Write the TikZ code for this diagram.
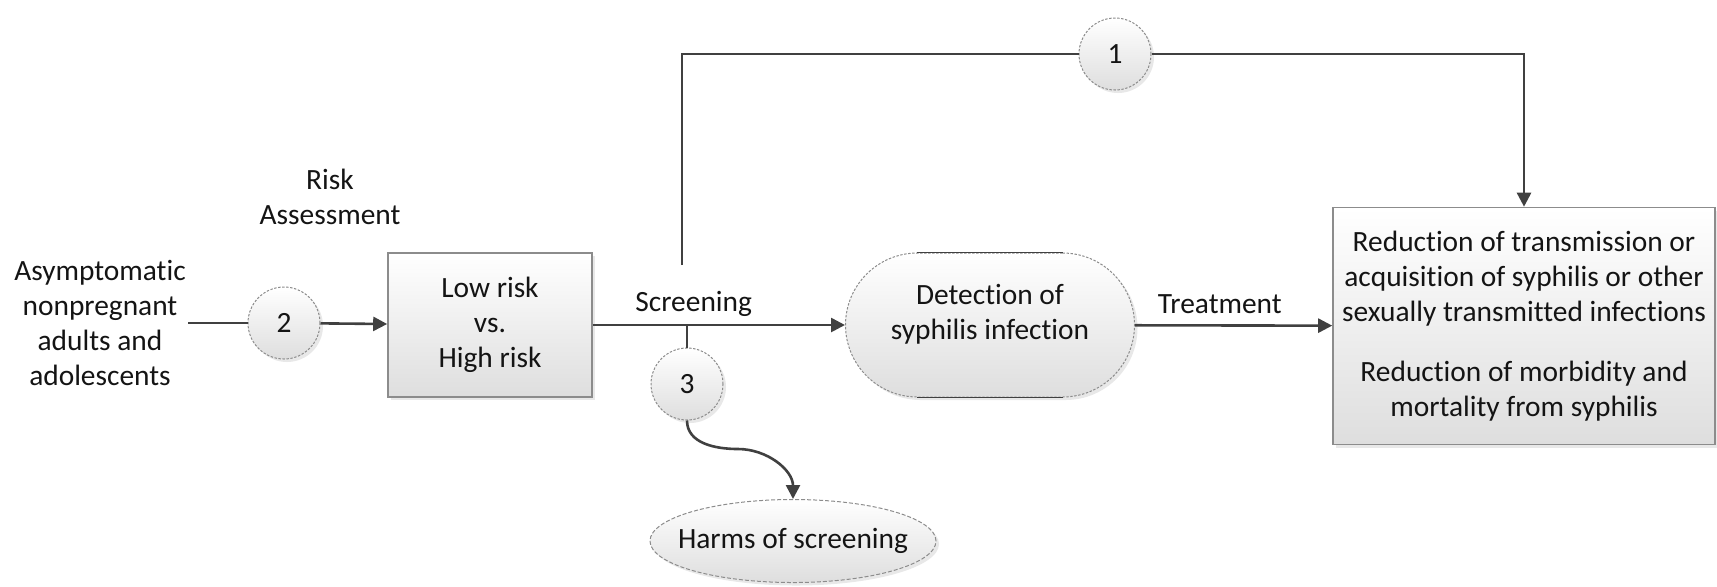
\documentclass[tikz,border=0pt]{standalone}
\usepackage{fontspec}
\setmainfont{Carlito}[Ligatures=NoCommon, RawFeature={-liga;-clig;-calt;-dlig}]
\usetikzlibrary{arrows.meta,shapes.geometric,shadows}

\definecolor{linegray}{HTML}{404040}
\definecolor{bordergray}{HTML}{8C8C8C}
\definecolor{fillgray}{HTML}{DEDEDE}
\definecolor{txtblack}{HTML}{141414}

\tikzset{
    plain/.style={draw=linegray, line width=1.3pt},
    flow/.style={plain, -{Triangle[length=7pt,width=7pt]}},
    softshadow/.style={drop shadow={opacity=0.18, shadow xshift=1.5pt, shadow yshift=-1.5pt}},
    numcirc/.style={circle, draw=bordergray, line width=0.5pt, dash pattern=on 1.2pt off 0.8pt,
        top color=white, bottom color=fillgray, softshadow, minimum size=36pt, inner sep=0pt},
    graybox/.style={rectangle, draw=bordergray, line width=0.8pt, top color=white,
        bottom color=fillgray, softshadow, align=center, inner sep=2pt},
    stadium/.style={rectangle, rounded corners=36pt, draw=bordergray, line width=0.5pt,
        dash pattern=on 1.2pt off 0.8pt, top color=white, bottom color=fillgray, softshadow,
        minimum width=144.5pt, minimum height=72pt},
    oval/.style={ellipse, draw=bordergray, line width=0.5pt, dash pattern=on 2pt off 1pt,
        top color=white, bottom color=fillgray, softshadow,
        minimum width=143pt, minimum height=41.5pt, inner sep=0pt},
    plaintext/.style={align=center, inner sep=1pt}
}

\begin{document}
\begin{tikzpicture}[x=0.5pt,y=-0.5pt, font=\fontsize{14.7}{17.5}\selectfont, text=txtblack]
    \useasboundingbox (0,0) rectangle (1717,586);

    % nodes
    \node[plaintext] (pop) at (100,323) {Asymptomatic\\nonpregnant\\adults and\\adolescents};
    \node[plaintext] (riskhead) at (330,197) {Risk\\Assessment};
    \node[numcirc] (c2) at (284,323) {2};
    \node[graybox, minimum width=102pt, minimum height=72pt] (risk) at (490,325)
        {Low risk\\vs.\\High risk};
    \node[stadium, label={[align=center, yshift=5.5pt]center:Detection of\\syphilis infection}]
        (det) at (990,325) {};
    \node[numcirc] (c3) at (687,384) {3};
    \node[oval] (harms) at (793,541) {\makebox[96pt]{Harms of screening}};
    \node[numcirc] (c1) at (1115,54) {1};
    \node[graybox, minimum width=191pt, minimum height=118.5pt] (outcome) at (1524,326)
        {Reduction of transmission or\\acquisition of syphilis or other\\sexually transmitted infections\\[12.5pt]
         Reduction of morbidity and\\mortality from syphilis};

    \draw[plain, line width=0.8pt] ([xshift=36pt]det.north west) -- ([xshift=-36pt]det.north east);
    \draw[plain, line width=0.8pt] ([xshift=36pt]det.south west) -- ([xshift=-36pt]det.south east);

    \coordinate (scrup) at (682,265);
    \coordinate (scrdown) at (687,326);
    \coordinate (wave) at (738,449);

    % connectors
    \draw[plain] (pop) -- (c2);
    \draw[flow] (c2) -- (risk);
    \draw[flow] (risk) -- node[pos=0.4, yshift=10.5pt] {Screening} (det);
    \draw[flow] (det) -- node[pos=0.43, yshift=10.5pt] {Treatment} (outcome);
    \draw[plain] (scrdown) -- (c3);
    \draw[flow] (c3.south) to[out=-90,in=180] (wave) to[out=0,in=90] (harms.north);
    \draw[plain] (scrup) |- (c1);
    \draw[flow] (c1) -| (outcome.north);
\end{tikzpicture}
\end{document}
